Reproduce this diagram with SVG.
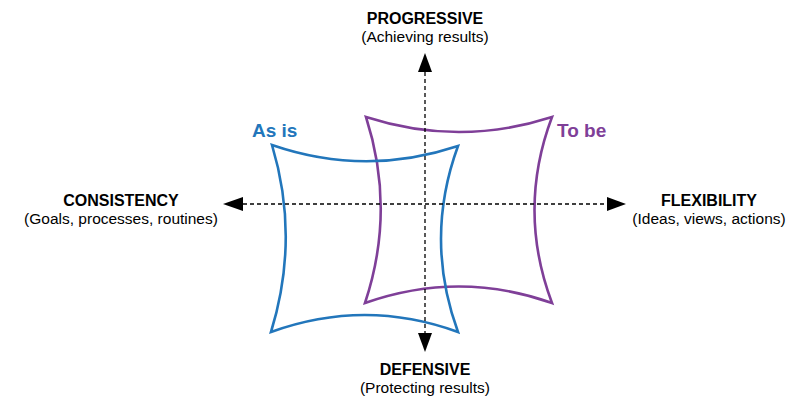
<svg xmlns="http://www.w3.org/2000/svg" width="801" height="398" viewBox="0 0 801 398">
<style>
.t{font-family:"Liberation Sans",Arial,sans-serif;fill:#000;text-anchor:middle}
.b{font-weight:bold;font-size:16px}
.s{font-size:15.5px}
.ax{stroke:#000;stroke-width:1.3;stroke-dasharray:4 3;fill:none}
.ah{fill:#000}
.shape{fill:none;stroke-width:2.6;stroke-linejoin:miter}
.lbl{font-family:"Liberation Sans",Arial,sans-serif;font-weight:bold;font-size:19px}
</style>
<rect width="801" height="398" fill="#fff"/>
<g id="to-be">
<path class="shape" stroke="#7F3F98" d="M366,117 Q459,147 552,117 Q517,210 552,303 Q459,270 365,303 Q396,210 366,117 Z"/>
<text class="lbl" x="557" y="137" fill="#7F3F98">To be</text>
</g>
<g id="as-is">
<path class="shape" stroke="#2276BB" d="M272,145 Q365,177 458,146 Q424,239 458,332 Q365,298 271,332 Q300,238 272,145 Z"/>
<text class="lbl" x="252" y="137" fill="#2276BB">As is</text>
</g>
<g id="connectors">
<line class="ax" x1="243" y1="204" x2="607" y2="204"/>
<line class="ax" x1="425" y1="72" x2="425" y2="333"/>
<polygon class="ah" points="223,204 243,197 243,211"/>
<polygon class="ah" points="626,204 607,197 607,211"/>
<polygon class="ah" points="425,53 418,72 432,72"/>
<polygon class="ah" points="425,352 418,333 432,333"/>
</g>
<g id="progressive">
<text class="t b" x="425" y="24">PROGRESSIVE</text>
<text class="t s" x="425" y="42">(Achieving results)</text>
</g>
<g id="defensive">
<text class="t b" x="425" y="375">DEFENSIVE</text>
<text class="t s" x="425" y="393">(Protecting results)</text>
</g>
<g id="consistency">
<text class="t b" x="121" y="206">CONSISTENCY</text>
<text class="t s" x="121" y="224">(Goals, processes, routines)</text>
</g>
<g id="flexibility">
<text class="t b" x="709" y="206">FLEXIBILITY</text>
<text class="t s" x="709" y="224">(Ideas, views, actions)</text>
</g>
</svg>
